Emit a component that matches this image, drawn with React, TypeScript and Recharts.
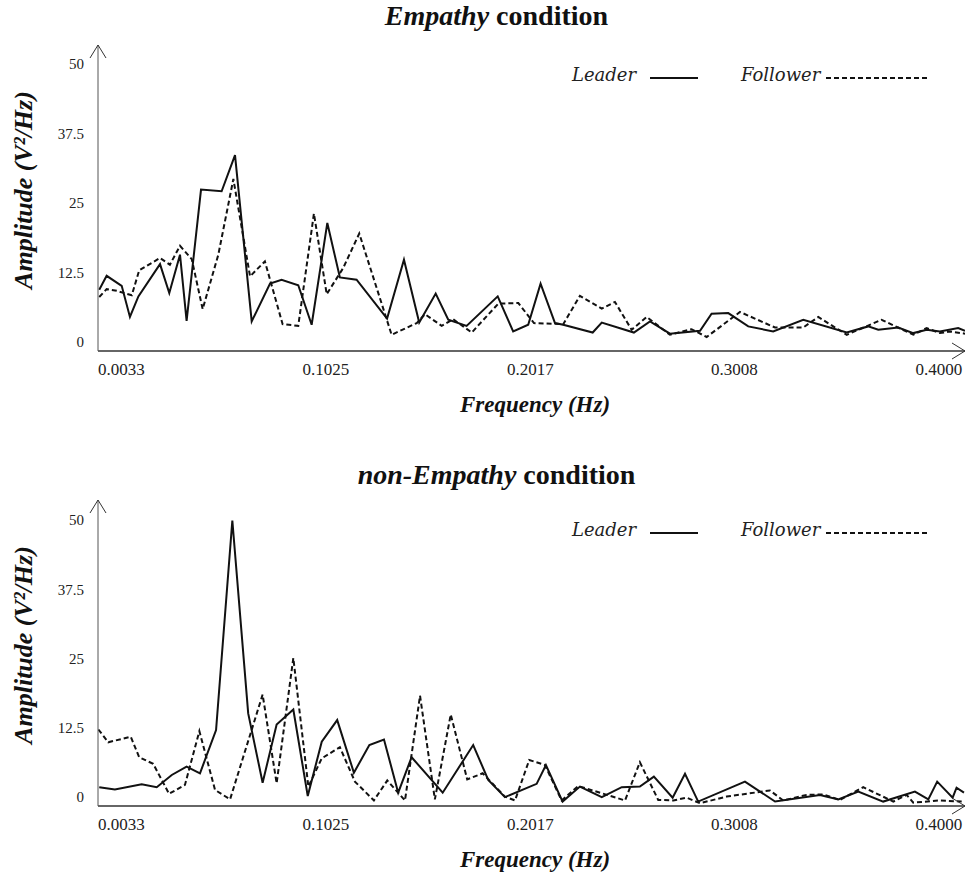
import React from "react";
import { LineChart, Line, XAxis, YAxis } from "recharts";

const freqTicks = [0.0033, 0.1025, 0.2017, 0.3008, 0.4];
const ampTicks = [0, 12.5, 25, 37.5, 50];

// Empathy condition
const empathyLeaderHz = [-0.0075, -0.0039, 0.0034, 0.0074, 0.0115, 0.022, 0.0265, 0.0317, 0.0349, 0.0419, 0.0519, 0.0584, 0.0665, 0.0754, 0.081, 0.0891, 0.0956, 0.1032, 0.1093, 0.1174, 0.1322, 0.1404, 0.1478, 0.1558, 0.1619, 0.1708, 0.1859, 0.1934, 0.2007, 0.2067, 0.2137, 0.2177, 0.232, 0.2364, 0.252, 0.2598, 0.2695, 0.2841, 0.2897, 0.2978, 0.3075, 0.3196, 0.3342, 0.3553, 0.3657, 0.3706, 0.3803, 0.3876, 0.3941, 0.4005, 0.4094, 0.4127];
const empathyLeaderAmp = [9.4, 11.9, 10.1, 4.5, 8.2, 14.0, 8.8, 15.7, 3.8, 27.4, 27.1, 33.6, 3.7, 10.5, 11.2, 10.2, 3.1, 21.4, 11.6, 11.2, 4.2, 14.8, 3.5, 8.7, 4.0, 2.9, 8.2, 1.9, 3.1, 10.5, 3.4, 3.1, 1.7, 3.5, 1.7, 3.7, 1.5, 2.0, 5.1, 5.2, 2.8, 1.9, 4.0, 1.7, 2.8, 2.2, 2.6, 1.6, 2.2, 1.9, 2.5, 2.0];

const empathyFollowerHz = [-0.0075, -0.0039, 0.001, 0.0083, 0.0119, 0.022, 0.0268, 0.0317, 0.0374, 0.0427, 0.0503, 0.0576, 0.0657, 0.0729, 0.0815, 0.0891, 0.0967, 0.1029, 0.1109, 0.1187, 0.1344, 0.1466, 0.1506, 0.1587, 0.1643, 0.1733, 0.1862, 0.1959, 0.2035, 0.2177, 0.2258, 0.2364, 0.2428, 0.2509, 0.2582, 0.2695, 0.28, 0.2873, 0.3035, 0.3205, 0.3342, 0.3415, 0.3553, 0.3722, 0.3876, 0.3941, 0.4005, 0.4054, 0.4127];
const empathyFollowerAmp = [8.1, 9.5, 9.2, 8.4, 12.9, 15.1, 13.9, 17.3, 14.9, 5.9, 15.7, 29.3, 11.8, 14.5, 3.2, 2.9, 23.1, 8.6, 13.3, 19.5, 1.3, 3.4, 5.0, 2.9, 4.1, 1.7, 6.9, 7.0, 3.4, 3.2, 8.3, 6.0, 7.2, 2.2, 4.5, 1.3, 2.3, 0.9, 5.4, 2.6, 2.6, 4.5, 1.3, 4.0, 1.3, 2.5, 1.6, 1.9, 1.5];

// non-Empathy condition
const nonEmpathyLeaderHz = [-0.0075, 0.0001, 0.0131, 0.0204, 0.0277, 0.0349, 0.0414, 0.0492, 0.0571, 0.0648, 0.0718, 0.0786, 0.0867, 0.0937, 0.1005, 0.108, 0.1161, 0.1236, 0.1307, 0.1376, 0.1441, 0.1592, 0.174, 0.1813, 0.1894, 0.2048, 0.2093, 0.2174, 0.2258, 0.2364, 0.2461, 0.2549, 0.2617, 0.2708, 0.2768, 0.2832, 0.3059, 0.3205, 0.3423, 0.3512, 0.3609, 0.373, 0.3884, 0.3949, 0.3992, 0.4067, 0.4086, 0.4122];
const nonEmpathyLeaderAmp = [1.8, 1.4, 2.3, 1.8, 4.0, 5.5, 4.3, 12.1, 49.9, 15.1, 2.6, 13.1, 15.8, 0.2, 10.0, 13.9, 4.4, 9.4, 10.4, 0.8, 7.2, 0.8, 9.4, 3.1, 0.0, 2.4, 5.8, -0.8, 1.9, 0.0, 1.8, 1.9, 3.7, -0.1, 4.2, -0.8, 2.8, -0.8, 0.4, -0.4, 1.0, -0.8, 1.0, -0.4, 2.8, -0.1, 1.7, 0.8];

const nonEmpathyFollowerHz = [-0.0079, -0.0031, 0.0078, 0.0119, 0.0187, 0.0264, 0.0341, 0.0411, 0.0487, 0.056, 0.0718, 0.0786, 0.0867, 0.094, 0.1005, 0.1093, 0.1166, 0.1258, 0.1323, 0.1409, 0.1482, 0.1554, 0.1631, 0.1711, 0.1786, 0.1894, 0.1943, 0.2012, 0.2088, 0.2169, 0.225, 0.2477, 0.2549, 0.2638, 0.2711, 0.2776, 0.2841, 0.297, 0.318, 0.3245, 0.3358, 0.3439, 0.352, 0.3633, 0.3779, 0.3844, 0.3876, 0.4005, 0.4111];
const nonEmpathyFollowerAmp = [12.2, 9.9, 10.9, 7.2, 6.0, 0.6, 2.2, 11.9, 1.3, -0.4, 18.5, 2.5, 25.1, 1.9, 7.0, 9.0, 2.8, -0.6, 3.0, -0.6, 18.3, -0.4, 14.9, 3.2, 4.3, 0.1, -0.6, 6.7, 5.8, -0.6, 2.0, -0.6, 6.3, -0.5, -0.6, -0.1, -1.1, 0.1, 1.2, -0.6, 0.4, 0.5, -0.5, 1.8, -0.8, 0.4, -1.0, -0.6, -0.8];

const toPoints = (hz: number[], amp: number[]) => hz.map((f, i) => ({ f, a: amp[i] }));

const serif = '"Liberation Serif", "Times New Roman", serif';
const xTickStyle = { fontFamily: serif, fontSize: 17, fill: "#222" };
const yTickStyle = { fontFamily: serif, fontSize: 15, fill: "#222" };

type PanelProps = {
  id: string;
  top: number;
  titleTop: number;
  title: React.ReactNode;
  leader: { f: number; a: number }[];
  follower: { f: number; a: number }[];
  yDomain: [number, number];
};

function Panel({ id, top, titleTop, title, leader, follower, yDomain }: PanelProps) {
  const arrow = `url(#${id}-arrow)`;
  return (
    <div style={{ position: "absolute", left: 0, top, width: 969, height: 423 }}>
      <div
        style={{
          position: "absolute",
          left: 22,
          top: titleTop,
          width: 949,
          textAlign: "center",
          fontFamily: serif,
          fontSize: 28,
          fontWeight: "bold",
          lineHeight: "30px",
          color: "#111",
        }}
      >
        {title}
      </div>

      <LineChart width={969} height={400} margin={{ top: 45, right: 4, bottom: 19, left: 58 }}>
        <defs>
          <marker
            id={`${id}-arrow`}
            viewBox="0 0 14 18"
            refX={13}
            refY={9}
            markerWidth={14}
            markerHeight={18}
            markerUnits="userSpaceOnUse"
            orient="auto-start-reverse"
          >
            <path d="M0,1 L13,9 L0,17" fill="none" stroke="#333" strokeWidth={1} />
          </marker>
        </defs>
        <XAxis
          type="number"
          dataKey="f"
          domain={[-0.0081, 0.4127]}
          allowDataOverflow
          ticks={freqTicks}
          interval={0}
          tickFormatter={(v: number) => v.toFixed(4)}
          tickLine={false}
          tickSize={0}
          tickMargin={12}
          tick={xTickStyle}
          axisLine={{ stroke: "#333", strokeWidth: 1.3, markerEnd: arrow }}
        />
        <YAxis
          type="number"
          width={40}
          domain={yDomain}
          allowDataOverflow
          ticks={ampTicks}
          interval={0}
          tickLine={false}
          tickSize={0}
          tickMargin={14}
          tick={yTickStyle}
          axisLine={{ stroke: "#555", strokeWidth: 1, markerStart: arrow }}
        />
        <Line
          data={leader}
          dataKey="a"
          type="linear"
          stroke="#111"
          strokeWidth={2}
          dot={false}
          isAnimationActive={false}
        />
        <Line
          data={follower}
          dataKey="a"
          type="linear"
          stroke="#111"
          strokeWidth={2}
          strokeDasharray="5 3"
          dot={false}
          isAnimationActive={false}
        />
      </LineChart>

      {/* legend */}
      <div style={{ position: "absolute", left: 0, top: 64, width: 969, height: 28, fontFamily: '"DejaVu Serif", serif', fontStyle: "italic", fontSize: 18, color: "#222" }}>
        <span style={{ position: "absolute", left: 572, top: 0 }}>Leader</span>
        <svg style={{ position: "absolute", left: 650, top: 12 }} width={48} height={4}>
          <line x1={0} y1={2} x2={48} y2={2} stroke="#111" strokeWidth={2} />
        </svg>
        <span style={{ position: "absolute", left: 741, top: 0 }}>Follower</span>
        <svg style={{ position: "absolute", left: 826, top: 12 }} width={102} height={4}>
          <line x1={0} y1={2} x2={102} y2={2} stroke="#111" strokeWidth={2} strokeDasharray="5 3" />
        </svg>
      </div>

      {/* axis titles */}
      <div
        style={{
          position: "absolute",
          left: 535,
          top: 405,
          transform: "translate(-50%, -50%)",
          whiteSpace: "nowrap",
          fontFamily: serif,
          fontSize: 23,
          fontWeight: "bold",
          fontStyle: "italic",
          color: "#111",
        }}
      >
        Frequency (Hz)
      </div>
      <div
        style={{
          position: "absolute",
          left: 24,
          top: 190,
          transform: "translate(-50%, -50%) rotate(-90deg)",
          whiteSpace: "nowrap",
          fontFamily: serif,
          fontSize: 26,
          fontWeight: "bold",
          fontStyle: "italic",
          color: "#111",
        }}
      >
        Amplitude (V²/Hz)
      </div>
    </div>
  );
}

export default function App() {
  return (
    <div style={{ position: "absolute", left: 0, top: 0, width: 969, height: 878, background: "#fff", overflow: "hidden" }}>
      <Panel
        id="emp"
        top={0}
        titleTop={1}
        title={<><i>Empathy</i> condition</>}
        leader={toPoints(empathyLeaderHz, empathyLeaderAmp)}
        follower={toPoints(empathyFollowerHz, empathyFollowerAmp)}
        yDomain={[-1.62, 53.4]}
      />
      <Panel
        id="nonemp"
        top={455}
        titleTop={5}
        title={<><i>non-Empathy</i> condition</>}
        leader={toPoints(nonEmpathyLeaderHz, nonEmpathyLeaderAmp)}
        follower={toPoints(nonEmpathyFollowerHz, nonEmpathyFollowerAmp)}
        yDomain={[-1.6, 53.6]}
      />
    </div>
  );
}
